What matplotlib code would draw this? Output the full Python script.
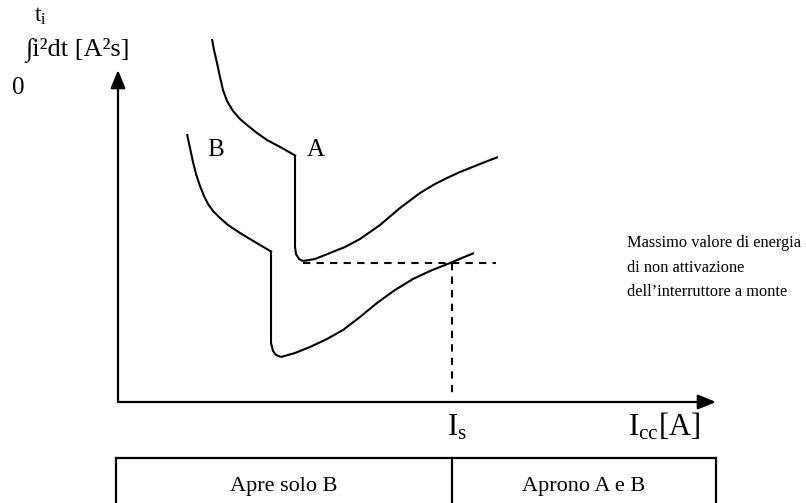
import matplotlib
matplotlib.use("Agg")
import matplotlib.pyplot as plt

plt.rcParams['font.family'] = ['Liberation Serif', 'DejaVu Serif']
plt.rcParams['mathtext.fontset'] = 'custom'
plt.rcParams['mathtext.rm'] = 'Liberation Serif'
plt.rcParams['mathtext.it'] = 'Liberation Serif:italic'

# --- data (schematic coordinates: x = current, y = let-through energy; screen-like units) ---
# Curve A: upper branch, instantaneous drop, lower branch
a_upper_x = [212, 214, 217, 220, 223, 227, 233, 240, 247, 257, 267, 282, 296]
a_upper_y = [39, 50, 63, 77, 90, 101, 111, 119, 125, 133, 140, 148, 156]
a_drop_x = [295, 295, 296, 299, 303]
a_drop_y = [156, 247, 254, 259, 261]
a_lower_x = [303, 315, 330, 345, 360, 380, 400, 420, 435, 447, 460, 470, 485, 498]
a_lower_y = [261, 259, 253, 247, 239, 225, 208, 193, 184, 178, 172, 168, 162, 157]

# Curve B
b_upper_x = [187, 190, 193, 196, 200, 204, 208, 213, 220, 228, 240, 250, 260, 272]
b_upper_y = [134, 148, 162, 174, 186, 196, 204, 211, 218, 225, 233, 239, 245, 252]
b_drop_x = [271, 271, 273, 276, 281]
b_drop_y = [252, 343, 351, 355, 357]
b_lower_x = [281, 295, 310, 327, 343, 360, 377, 395, 413, 430, 450, 462, 474]
b_lower_y = [357, 353, 347, 339, 330, 317, 303, 290, 279, 271, 263, 258, 253]

# Reference lines
origin = (118, 402)
x_axis_end = 716
y_axis_end = 70
energy_level_y = 263
energy_line_x = [303, 496]
i_s = 452

# Selectivity table
table_left, table_right, table_top = 116, 716, 458
table_labels = ["Apre solo B", "Aprono A e B"]

fig = plt.figure(figsize=(8.06, 5.03), dpi=100)
ax = fig.add_axes([0, 0, 1, 1])
ax.set_xlim(0, 806)
ax.set_ylim(503, 0)
ax.axis('off')

lw = 1.5
for xs, ys in [(a_upper_x, a_upper_y), (a_drop_x, a_drop_y), (a_lower_x, a_lower_y),
               (b_upper_x, b_upper_y), (b_drop_x, b_drop_y), (b_lower_x, b_lower_y)]:
    ax.plot(xs, ys, color='black', lw=lw, solid_capstyle='butt')

# axes arrows
ax.annotate('', xy=(x_axis_end, origin[1]), xytext=(origin[0], origin[1]),
            arrowprops=dict(arrowstyle='-|>,head_length=1.1,head_width=0.45', color='black', lw=1.6,
                            shrinkA=0, shrinkB=0))
ax.annotate('', xy=(origin[0], y_axis_end), xytext=(origin[0], origin[1]),
            arrowprops=dict(arrowstyle='-|>,head_length=1.1,head_width=0.45', color='black', lw=1.6,
                            shrinkA=0, shrinkB=0))

# dashed lines
ax.plot(energy_line_x, [energy_level_y, energy_level_y], color='black', lw=1.5, dashes=(3.5, 3))
ax.plot([i_s, i_s], [energy_level_y, 394], color='black', lw=1.5, dashes=(3.5, 3))

# table
ax.plot([table_left, table_right], [table_top, table_top], color='black', lw=1.6)
for xv in (table_left, i_s, table_right):
    ax.plot([xv, xv], [table_top, 503], color='black', lw=1.6)
ax.text((table_left + i_s) / 2, 486, table_labels[0], ha='center', va='center', fontsize=16)
ax.text((i_s + table_right) / 2, 486, table_labels[1], ha='center', va='center', fontsize=16)

# labels
ax.text(216, 150, 'B', ha='center', va='center', fontsize=18)
ax.text(316, 150, 'A', ha='center', va='center', fontsize=18)
ax.text(627, 243, 'Massimo valore di energia', ha='left', va='center', fontsize=11.8)
ax.text(627, 268, 'di non attivazione', ha='left', va='center', fontsize=11.8)
ax.text(627, 292, "dell\u2019interruttore a monte", ha='left', va='center', fontsize=11.8)

ax.text(447, 435, r'$\mathrm{I_s}$', ha='left', va='baseline', fontsize=22)
ax.text(628, 435, r'$\mathrm{I_{cc}[A]}$', ha='left', va='baseline', fontsize=22)

ax.text(34, 22, r'$\mathrm{t_i}$', ha='left', va='baseline', fontsize=17)
ax.text(25, 56, '\u222bi\u00b2dt [A\u00b2s]', ha='left', va='baseline', fontsize=19)
ax.text(12, 88, '0', ha='left', va='center', fontsize=18)

fig.savefig('out.png', dpi=100)
